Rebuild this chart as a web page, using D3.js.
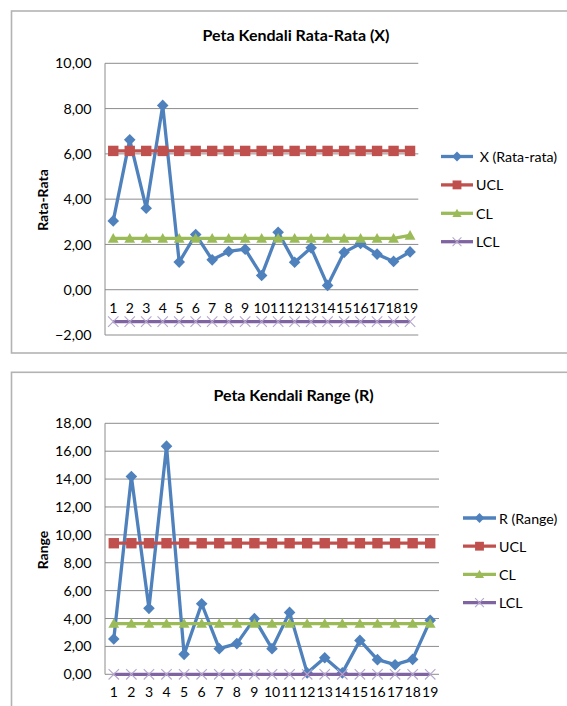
<!DOCTYPE html>
<html><head><meta charset="utf-8">
<script src="https://cdn.jsdelivr.net/npm/d3@7"></script>
<style>
body{margin:0;background:#fff;}
svg text{font-family:"Lato","Liberation Sans",sans-serif;fill:#000;}
</style></head><body>
<svg id="c" width="567" height="706"></svg>
<script>
// ---------- data ----------
const categories = ["1","2","3","4","5","6","7","8","9","10","11","12","13","14","15","16","17","18","19"];

const xbarValues = [3.04,6.62,3.60,8.14,1.22,2.44,1.32,1.69,1.79,0.63,2.54,1.21,1.85,0.19,1.65,2.04,1.57,1.25,1.67];
const xbarUCL = [6.13,6.13,6.13,6.13,6.13,6.13,6.13,6.13,6.13,6.13,6.13,6.13,6.13,6.13,6.13,6.13,6.13,6.13,6.13];
const xbarCL  = [2.27,2.27,2.27,2.27,2.27,2.27,2.27,2.27,2.27,2.27,2.27,2.27,2.27,2.27,2.27,2.27,2.27,2.27,2.40];
const xbarLCL = [-1.41,-1.41,-1.41,-1.41,-1.41,-1.41,-1.41,-1.41,-1.41,-1.41,-1.41,-1.41,-1.41,-1.41,-1.41,-1.41,-1.41,-1.41,-1.41];

const rangeValues = [2.53,14.18,4.73,16.36,1.43,5.06,1.84,2.20,3.99,1.84,4.44,0.10,1.19,0.10,2.43,1.05,0.69,1.07,3.87];
const rangeUCL = [9.40,9.40,9.40,9.40,9.40,9.40,9.40,9.40,9.40,9.40,9.40,9.40,9.40,9.40,9.40,9.40,9.40,9.40,9.40];
const rangeCL  = [3.64,3.64,3.64,3.64,3.64,3.64,3.64,3.64,3.64,3.64,3.64,3.64,3.64,3.64,3.64,3.64,3.64,3.64,3.64];
const rangeLCL = [0,0,0,0,0,0,0,0,0,0,0,0,0,0,0,0,0,0,0];

const xbarTicks  = [-2,0,2,4,6,8,10];
const rangeTicks = [0,2,4,6,8,10,12,14,16,18];

const xbarNames  = ["\u00A0X (Rata-rata)","UCL","CL","LCL"];
const rangeNames = ["R (Range)","UCL","CL","LCL"];

const chartTitles = ["Peta Kendali Rata-Rata (X)","Peta Kendali Range (R)"];
const axisTitles  = ["Rata-Rata","Range"];

// ---------- styles ----------
const colors = ["#4F81BD","#C0504D","#9BBB59","#8064A2"];
const markers = ["diamond","square","triangle","x"];
const fmt = v => d3.format(".2f")(v).replace(".", ",");
const FONT = "Lato, 'Liberation Sans', sans-serif";

const svg = d3.select("#c");

function drawMarker(g, type, color, cx, cy, s) {
  s = s || 1;
  if (type === "diamond") {
    const r = 5.8*s;
    g.append("path").attr("d", `M${cx},${cy-r}L${cx+r},${cy}L${cx},${cy+r}L${cx-r},${cy}Z`).attr("fill", color);
  } else if (type === "square") {
    const r = 5.2*s;
    g.append("rect").attr("x", cx-r).attr("y", cy-r).attr("width", 2*r).attr("height", 2*r).attr("fill", color);
  } else if (type === "triangle") {
    const r = 5.4*s;
    g.append("path").attr("d", `M${cx},${cy-r}L${cx+r},${cy+r*0.8}L${cx-r},${cy+r*0.8}Z`).attr("fill", color);
  } else {
    const r = 5.2*s;
    g.append("path").attr("d", `M${cx-r},${cy-r}L${cx+r},${cy+r}M${cx+r},${cy-r}L${cx-r},${cy+r}`)
      .attr("stroke", "#B4A6CC").attr("stroke-width", 1.1).attr("fill", "none");
  }
}

function drawChart(o) {
  const g = svg.append("g");
  g.append("rect").attr("x", 11.5).attr("y", o.frameTop).attr("width", 640).attr("height", o.frameH)
    .attr("fill", "#fff").attr("stroke", "#B3B3B3").attr("stroke-width", 1.6);

  const x = d3.scaleBand().domain(categories).range(o.xRange);
  const y = d3.scaleLinear().domain(o.yDomain).range(o.yRange);

  g.append("g").selectAll("line").data(o.ticks).join("line")
    .attr("x1", o.xRange[0]).attr("x2", o.xRange[1])
    .attr("y1", d => y(d)).attr("y2", d => y(d))
    .attr("stroke", "#8C8C8C").attr("stroke-width", 1);
  g.append("line").attr("x1", o.xRange[0]).attr("x2", o.xRange[0])
    .attr("y1", y(o.yDomain[0])).attr("y2", y(o.yDomain[1]))
    .attr("stroke", "#8C8C8C").attr("stroke-width", 1);

  const yAxis = d3.axisLeft(y).tickValues(o.ticks).tickFormat(fmt).tickSize(0).tickPadding(0);
  const ya = g.append("g").attr("transform", `translate(91.5,0)`).call(yAxis);
  ya.select(".domain").remove();
  ya.selectAll("text").attr("font-size", 14.3).attr("fill", "#000").style("font-family", FONT);

  const xAxis = d3.axisBottom(x).tickSize(0).tickPadding(0);
  const xa = g.append("g").attr("transform", `translate(0,${y(0) + 13})`).call(xAxis);
  xa.select(".domain").remove();
  xa.selectAll("text").attr("font-size", 14).attr("fill", "#000").style("font-family", FONT);

  const cx = d => x(d) + x.bandwidth()/2;
  o.series.forEach((s, i) => {
    const line = d3.line().x((d, j) => cx(categories[j])).y(d => y(d));
    g.append("path").datum(s).attr("d", line).attr("fill", "none")
      .attr("stroke", colors[i]).attr("stroke-width", 3.3).attr("stroke-linejoin", "round");
    const mg = g.append("g");
    s.forEach((v, j) => drawMarker(mg, markers[i], colors[i], cx(categories[j]), y(v)));
  });

  g.append("text").attr("x", o.titleX).attr("y", o.titleY).attr("text-anchor", "middle")
    .attr("dominant-baseline", "central").attr("font-size", 16).attr("font-weight", "bold").text(o.title);
  g.append("text").attr("transform", `translate(42,${o.axisTitleY}) rotate(-90)`).attr("text-anchor", "middle")
    .attr("dominant-baseline", "central").attr("font-size", 14).attr("font-weight", "bold").text(o.axisTitle);

  o.names.forEach((n, i) => {
    const ly = o.legendY0 + i * o.legendStep;
    const lg = g.append("g");
    lg.append("line").attr("x1", o.legendX).attr("x2", o.legendX + o.legendLen).attr("y1", ly).attr("y2", ly)
      .attr("stroke", colors[i]).attr("stroke-width", 3.3);
    drawMarker(lg, markers[i], colors[i], o.legendX + o.legendLen/2, ly, 0.85);
    lg.append("text").attr("x", o.legendX + o.legendLen + 3).attr("y", ly).attr("dominant-baseline", "central")
      .attr("font-size", 14.2).text(n);
  });
}

drawChart({
  frameTop: 11, frameH: 342,
  xRange: [105, 418.3], yDomain: [-2, 10], yRange: [335, 63.3], ticks: xbarTicks,
  series: [xbarValues, xbarUCL, xbarCL, xbarLCL], names: xbarNames,
  title: chartTitles[0], titleX: 296, titleY: 34,
  axisTitle: axisTitles[0], axisTitleY: 200,
  legendX: 441, legendLen: 32, legendY0: 156.5, legendStep: 28.4
});

drawChart({
  frameTop: 372.3, frameH: 400,
  xRange: [105, 439], yDomain: [0, 18], yRange: [674.3, 423.3], ticks: rangeTicks,
  series: [rangeValues, rangeUCL, rangeCL, rangeLCL], names: rangeNames,
  title: chartTitles[1], titleX: 293.5, titleY: 394,
  axisTitle: axisTitles[1], axisTitleY: 550,
  legendX: 463, legendLen: 33, legendY0: 518, legendStep: 28.2
});
</script>
</body></html>
